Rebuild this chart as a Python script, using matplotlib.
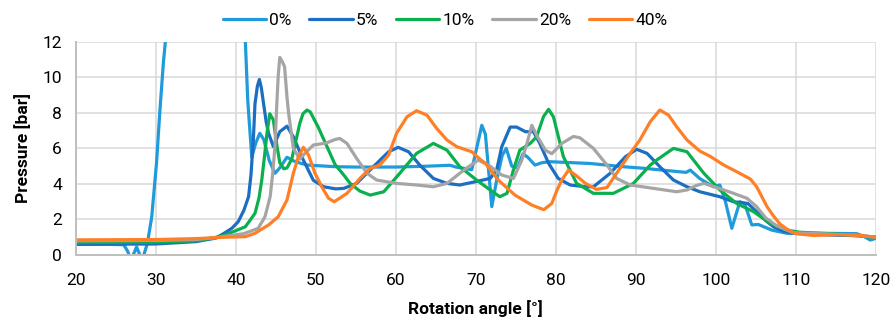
import matplotlib
matplotlib.use("Agg")
import matplotlib.pyplot as plt

plt.rcParams['font.family'] = ['Roboto', 'DejaVu Sans']

# pressure traces per porosity level: angle [deg], pressure [bar]
x0 = [20, 24, 26.0, 26.5, 26.9, 27.6, 28.3, 28.96, 29.5, 30.1, 30.5, 30.95, 31.2, 31.4,
      41.1, 41.2, 41.5, 42.0, 42.5, 43.0, 43.5, 44.2, 44.9, 45.5, 46.4, 47.2, 48.2, 49.0,
      52.4, 55, 60, 64, 66.8, 67.5, 69.5, 70.1, 70.75, 71.2, 72.0, 72.6, 73.3, 73.8,
      74.5, 75.2, 75.9, 76.5, 77.4, 78.3, 79.3, 84.3, 88.4, 91, 95.1, 96.3, 96.8, 98,
      99.7, 100.5, 101.2, 102.0, 103.0, 103.6, 104.5, 105.3, 107.0, 108.9, 113.5, 117.6,
      118.5, 119.3, 120]
y0 = [0.6, 0.6, 0.58, 0.2, -0.3, 0.45, -0.3, 0.66, 2.15, 5.2, 8.0, 10.8, 12.0, 13.0,
      13.0, 12.0, 8.7, 5.5, 6.3, 6.85, 6.5, 5.3, 4.6, 4.9, 5.5, 5.3, 5.15, 5.06,
      4.97, 4.95, 4.95, 5.0, 5.05, 4.95, 4.8, 6.0, 7.3, 6.8, 2.72, 4.2, 5.6, 6.0,
      5.0, 4.9, 5.7, 5.5, 5.06, 5.2, 5.25, 5.15, 4.97, 4.88, 4.7, 4.65, 4.78, 4.3,
      3.84, 3.94, 3.0, 1.5, 3.0, 2.9, 1.69, 1.72, 1.4, 1.22, 1.22, 1.2,
      1.05, 0.84, 0.94]

x5 = [20, 30, 35, 37.5, 38.65, 39.5, 40.3, 41.0, 41.6, 41.9, 42.2, 42.4, 42.7, 42.95,
      43.2, 43.45, 43.8, 44.1, 44.7, 45.5, 46.4, 47.2, 48.45, 49.7, 51.0, 52.5, 53.5,
      55.1, 57.2, 59.1, 60.3, 61.6, 63.0, 64.7, 66.4, 68.0, 69.9, 71.8, 72.6, 73.25,
      74.3, 75.1, 76.2, 77.2, 78.0, 79.1, 80.3, 81.8, 83.7, 84.7, 86.8, 88.7, 90.1,
      91.4, 93.0, 94.7, 96.4, 98.0, 100.5, 102.2, 104.0, 105.1, 106.2, 107.2, 108.5,
      109.7, 114.7, 118, 120]
y5 = [0.6, 0.62, 0.75, 0.95, 1.25, 1.5, 1.87, 2.5, 3.28, 4.5, 6.5, 8.5, 9.5, 9.88,
      9.4, 8.6, 7.5, 6.85, 6.1, 6.94, 7.25, 6.65, 5.34, 4.2, 3.84, 3.72, 3.75,
      4.03, 4.97, 5.81, 6.06, 5.81, 5.06, 4.31, 4.03, 3.94, 4.12, 4.31, 4.78, 6.1,
      7.2, 7.2, 6.94, 6.94, 6.28, 5.16, 4.31, 3.94, 3.84, 3.84, 4.6, 5.53, 5.95,
      5.72, 4.97, 4.22, 3.84, 3.56, 3.28, 3.0, 2.9, 2.44, 1.95, 1.59, 1.33,
      1.22, 1.12, 1.08, 1.0]

x10 = [20, 30, 35, 37.6, 38.65, 41.2, 42.4, 42.9, 43.25, 43.6, 43.9, 44.25, 44.7, 45.1,
       45.5, 46.0, 46.4, 47.0, 47.5, 48.0, 48.4, 48.9, 49.3, 50.3, 51.4, 52.4, 53.5,
       54.3, 55.5, 56.8, 58.5, 60.5, 62.6, 64.7, 66.4, 68.0, 70.1, 71.8, 73.0, 73.9,
       74.7, 75.5, 76.8, 77.6, 78.45, 79.1, 79.7, 80.95, 82.6, 84.7, 87.2, 89.7, 91.8,
       92.6, 94.7, 96.4, 98.5, 100.5, 102.6, 104.7, 106.8, 108.9, 110.5, 115, 120]
y10 = [0.7, 0.72, 0.8, 1.0, 1.12, 1.59, 2.34, 3.2, 4.22, 5.6, 6.85, 7.95, 7.6, 6.28,
       5.2, 4.85, 4.9, 5.4, 6.4, 7.4, 7.95, 8.16, 8.06, 7.2, 6.1, 5.1, 4.5,
       4.03, 3.6, 3.37, 3.56, 4.6, 5.72, 6.28, 5.9, 4.97, 4.22, 3.66, 3.28, 3.47,
       4.78, 5.9, 6.28, 6.65, 7.78, 8.2, 7.78, 5.53, 4.03, 3.47, 3.47, 4.03, 5.06,
       5.34, 6.0, 5.81, 4.6, 3.66, 2.9, 2.44, 1.78, 1.4, 1.28, 1.18, 1.0]

x20 = [20, 30, 35, 37.6, 38.65, 41, 42.8, 43.65, 44.3, 44.6, 44.9, 45.1, 45.3, 45.5,
       45.8, 46.1, 46.4, 46.6, 47.2, 48.0, 48.6, 49.7, 51.3, 52.4, 53.0, 53.9, 55.1,
       56.4, 57.6, 60.1, 62.6, 64.7, 66.4, 68.0, 69.1, 70.3, 71.6, 73.25, 74.7, 75.75,
       76.4, 77.0, 77.6, 78.7, 79.5, 80.75, 82.2, 83.0, 84.7, 86.4, 87.6, 89.3, 92.2,
       95.1, 96.4, 97.5, 98.5, 100.1, 102.2, 103.9, 105.1, 106.2, 107.6, 109.7, 114,
       118, 120]
y20 = [0.8, 0.82, 0.87, 0.98, 1.05, 1.2, 1.5, 2.15, 3.28, 4.5, 6.1, 8.2, 10.03, 11.12,
       10.9, 10.6, 8.9, 8.0, 6.0, 5.4, 5.7, 6.19, 6.3, 6.5, 6.56, 6.28, 5.44,
       4.6, 4.22, 4.03, 3.94, 3.84, 4.03, 4.6, 4.97, 5.34, 5.06, 4.5, 4.31, 5.34,
       6.28, 7.3, 6.75, 5.9, 5.7, 6.28, 6.67, 6.6, 6.0, 5.06, 4.31, 3.94, 3.75,
       3.56, 3.66, 3.9, 4.03, 3.8, 3.47, 3.19, 2.72, 2.1, 1.65, 1.25, 1.18,
       1.1, 1.0]

x40 = [20, 30, 35, 38.65, 41.2, 42.4, 44.1, 45.3, 46.4, 47.2, 47.8, 48.45, 49.1, 49.9,
       50.75, 51.6, 52.3, 53.0, 53.9, 55.5, 56.8, 58.0, 59.1, 60.1, 61.4, 62.6, 63.9,
       65.1, 66.4, 67.6, 69.5, 70.5, 71.2, 72.8, 74.9, 77.0, 78.5, 79.5, 80.1, 80.75,
       81.6, 82.6, 83.7, 85.1, 86.4, 87.6, 89.3, 90.5, 91.8, 93.0, 94.1, 95.1, 96.4,
       98.0, 99.3, 101.0, 102.6, 104.3, 105.1, 106.4, 107.2, 108.0, 108.9, 110.0, 112.2,
       115.5, 118, 120]
y40 = [0.85, 0.87, 0.92, 1.0, 1.03, 1.22, 1.69, 2.15, 3.09, 4.6, 5.5, 6.06, 5.62, 4.6,
       3.84, 3.19, 3.0, 3.2, 3.47, 4.3, 4.88, 5.06, 5.62, 6.85, 7.78, 8.12, 7.87,
       7.13, 6.47, 6.1, 5.81, 5.4, 5.16, 4.22, 3.37, 2.81, 2.55, 2.9, 3.6, 4.22,
       4.78, 4.45, 4.03, 3.69, 3.8, 4.6, 5.72, 6.47, 7.5, 8.16, 7.87, 7.22, 6.47,
       5.85, 5.55, 5.06, 4.69, 4.28, 3.84, 2.72, 2.2, 1.75, 1.45, 1.2, 1.1,
       1.15, 1.1, 1.0]

labels = ['0%', '5%', '10%', '20%', '40%']
colors = ['#1F9BDC', '#1B6EC2', '#0BB04E', '#A5A5A5', '#FF7F27']
series = [(x0, y0), (x5, y5), (x10, y10), (x20, y20), (x40, y40)]

fig = plt.figure(figsize=(8.91, 3.24), dpi=100)
ax = fig.add_axes([0.085, 0.213, 0.898, 0.658])

for (xs, ys), lab, c in zip(series, labels, colors):
    ax.plot(xs, ys, color=c, lw=2.3, label=lab,
            solid_joinstyle='round', solid_capstyle='round')

ax.set_xlim(20, 120)
ax.set_ylim(0, 12)
ax.set_xticks(range(20, 121, 10))
ax.set_yticks(range(0, 13, 2))
ax.grid(True, color='#D9D9D9', lw=1.1)
ax.set_axisbelow(True)
for side in ['top', 'right']:
    ax.spines[side].set_visible(False)
for side in ['left', 'bottom']:
    ax.spines[side].set_color('#BFBFBF')
    ax.spines[side].set_linewidth(1.4)
ax.tick_params(length=0, labelsize=12.5, colors='#000000')
ax.tick_params(axis='x', pad=13)
ax.tick_params(axis='y', pad=10)

ax.set_xlabel('Rotation angle [°]', fontsize=12.5, fontweight='bold', labelpad=9)
ax.set_ylabel('Pressure [bar]', fontsize=12.5, fontweight='bold', labelpad=8)

fig.legend(loc='center', bbox_to_anchor=(0.4995, 0.938), ncol=5, frameon=False,
           fontsize=12.5, handlelength=2.5, handletextpad=0.2, columnspacing=1.0)

fig.savefig('out.png', dpi=100)
